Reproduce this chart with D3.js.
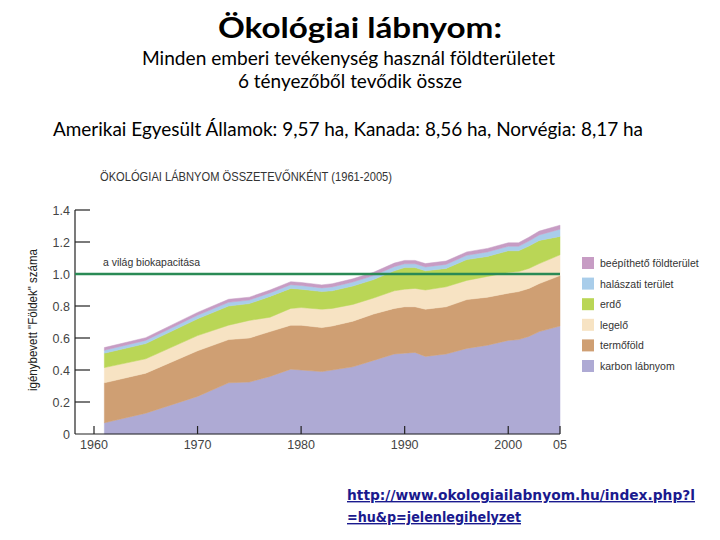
<!DOCTYPE html>
<html><head><meta charset="utf-8">
<script src="https://cdn.jsdelivr.net/npm/d3@7/dist/d3.min.js"></script>
<style>
body{margin:0;background:#fff;}
svg{display:block;}
</style></head>
<body>
<svg id="c" width="720" height="540"></svg>
<script>
const years = [1961,1965,1970,1973,1975,1977,1979,1980,1982,1983,1985,1987,1989,1990,1991,1992,1994,1996,1998,2000,2001,2002,2003,2005];
const carbon   = [0.07,0.13,0.235,0.32,0.325,0.36,0.405,0.40,0.39,0.40,0.42,0.46,0.50,0.505,0.51,0.485,0.50,0.535,0.555,0.585,0.59,0.61,0.64,0.675];
const cropland = [0.25,0.25,0.285,0.27,0.275,0.28,0.275,0.28,0.275,0.275,0.285,0.29,0.285,0.29,0.285,0.295,0.295,0.305,0.30,0.295,0.30,0.30,0.30,0.315];
const grazing  = [0.095,0.09,0.095,0.09,0.11,0.09,0.105,0.11,0.115,0.11,0.105,0.10,0.11,0.11,0.115,0.12,0.125,0.12,0.13,0.13,0.125,0.125,0.125,0.13];
const forest   = [0.09,0.095,0.105,0.12,0.105,0.13,0.125,0.115,0.11,0.11,0.115,0.115,0.125,0.135,0.13,0.12,0.115,0.13,0.125,0.135,0.13,0.14,0.145,0.115];
const fishing  = [0.018,0.02,0.022,0.023,0.022,0.022,0.023,0.023,0.023,0.024,0.025,0.025,0.026,0.024,0.024,0.024,0.025,0.027,0.028,0.028,0.028,0.031,0.034,0.045];
const builtup  = [0.017,0.017,0.018,0.019,0.018,0.018,0.019,0.019,0.019,0.02,0.02,0.021,0.022,0.021,0.021,0.021,0.021,0.021,0.022,0.022,0.022,0.024,0.024,0.025];

const seriesKeys   = ["carbon","cropland","grazing","forest","fishing","builtup"];
const seriesLabels = ["karbon lábnyom","termőföld","legelő","erdő","halászati terület","beépíthető földterület"];
const seriesColors = ["#aeaad4","#cf9f73","#f7e3c3","#bad656","#a9cdea","#c79cc4"];

const yTicks = [0,0.2,0.4,0.6,0.8,1.0,1.2,1.4];
const yTickLabels = ["0","0.2","0.4","0.6","0.8","1.0","1.2","1.4"];
const xTicks = [1960,1970,1980,1990,2000,2005];
const xTickLabels = ["1960","1970","1980","1990","2000","05"];
const biocapacity = 1.0;

const svg = d3.select("#c");
const x = d3.scaleLinear().domain([1960,2005]).range([94,560]);
const y = d3.scaleLinear().domain([0,1.4]).range([434,210]);

const cols = {carbon,cropland,grazing,forest,fishing,builtup};
const table = years.map((yr,i)=>{const o={year:yr}; seriesKeys.forEach(k=>o[k]=cols[k][i]); return o;});
const stack = d3.stack().keys(seriesKeys)(table);

// Texts
const tfont = "Lato, 'Open Sans', sans-serif";
svg.append("text").attr("x",218).attr("y",38)
  .attr("font-family",tfont).attr("font-weight","bold").attr("font-size",29).attr("fill","#000")
  .attr("textLength",284).attr("lengthAdjust","spacingAndGlyphs")
  .text("Ökológiai lábnyom:");
svg.append("text").attr("x",142).attr("y",65)
  .attr("font-family",tfont).attr("font-size",18.5).attr("fill","#000")
  .attr("textLength",413).attr("lengthAdjust","spacingAndGlyphs")
  .text("Minden emberi tevékenység használ földterületet");
svg.append("text").attr("x",238).attr("y",88)
  .attr("font-family",tfont).attr("font-size",18.5).attr("fill","#000")
  .attr("textLength",224).attr("lengthAdjust","spacingAndGlyphs")
  .text("6 tényezőből tevődik össze");
svg.append("text").attr("x",53).attr("y",136)
  .attr("font-family",tfont).attr("font-size",19.5).attr("fill","#000")
  .attr("textLength",590).attr("lengthAdjust","spacingAndGlyphs")
  .text("Amerikai Egyesült Államok: 9,57 ha, Kanada: 8,56 ha, Norvégia: 8,17 ha");

// Chart title
svg.append("text").attr("x",100).attr("y",181)
  .attr("font-family","'Liberation Sans', Arial, sans-serif").attr("font-size",13).attr("fill","#333")
  .attr("textLength",292).attr("lengthAdjust","spacingAndGlyphs")
  .text("ÖKOLÓGIAI LÁBNYOM ÖSSZETEVŐNKÉNT (1961-2005)");

// Areas
const area = d3.area().x(d=>x(d.data.year)).y0(d=>y(d[0])).y1(d=>y(d[1]));
svg.append("g").selectAll("path").data(stack).join("path")
  .attr("d",area).attr("fill",(d,i)=>seriesColors[i]).attr("stroke",(d,i)=>seriesColors[i]).attr("stroke-width",0.5);

// Axes
const ax = svg.append("g").attr("stroke","#222").attr("stroke-width",1.2);
ax.append("line").attr("x1",75).attr("x2",75).attr("y1",y(1.4)).attr("y2",y(0));
ax.append("line").attr("x1",75).attr("x2",x(2005)).attr("y1",y(0)).attr("y2",y(0));
ax.selectAll(".yt").data(yTicks.filter(v=>v>0)).join("line")
  .attr("x1",75).attr("x2",90).attr("y1",d=>y(d)).attr("y2",d=>y(d));
ax.selectAll(".xt").data(xTicks).join("line")
  .attr("x1",d=>x(d)).attr("x2",d=>x(d)).attr("y1",y(0)).attr("y2",y(0)-8);

const afont = "'Liberation Sans', Arial, sans-serif";
svg.append("g").selectAll("text").data(yTicks).join("text")
  .attr("x",70).attr("y",d=>y(d)+4.5).attr("text-anchor","end")
  .attr("font-family",afont).attr("font-size",12.5).attr("fill","#444")
  .text((d,i)=>yTickLabels[i]);
svg.append("g").selectAll("text").data(xTicks).join("text")
  .attr("x",d=>x(d)).attr("y",449).attr("text-anchor","middle")
  .attr("font-family",afont).attr("font-size",12.5).attr("fill","#444")
  .text((d,i)=>xTickLabels[i]);

svg.append("text").attr("transform","translate(37,320) rotate(-90)").attr("text-anchor","middle")
  .attr("font-family",afont).attr("font-size",12.5).attr("fill","#222")
  .attr("textLength",142).attr("lengthAdjust","spacingAndGlyphs")
  .text("igénybevett \"Földek\" száma");

// biocapacity line
svg.append("line").attr("x1",75).attr("x2",x(2005)).attr("y1",y(biocapacity)).attr("y2",y(biocapacity))
  .attr("stroke","#2a8a55").attr("stroke-width",2.4);
svg.append("text").attr("x",103).attr("y",266)
  .attr("font-family",afont).attr("font-size",11).attr("fill","#333")
  .attr("textLength",97).attr("lengthAdjust","spacingAndGlyphs")
  .text("a világ biokapacitása");

// Legend
const legOrder = [5,4,3,2,1,0];
const lg = svg.append("g").selectAll("g").data(legOrder).join("g")
  .attr("transform",(d,i)=>`translate(582,${257+i*20.6})`);
lg.append("rect").attr("width",12).attr("height",12).attr("fill",d=>seriesColors[d]);
lg.append("text").attr("x",18).attr("y",10)
  .attr("font-family",afont).attr("font-size",10.5).attr("fill","#333")
  .text(d=>seriesLabels[d]);

// Link
const lf = "'DejaVu Sans', Verdana, sans-serif";
svg.append("text").attr("x",347).attr("y",500)
  .attr("font-family",lf).attr("font-weight","bold").attr("font-size",14).attr("fill","#1a1a8e").attr("text-decoration","underline")
  .attr("textLength",348).attr("lengthAdjust","spacingAndGlyphs")
  .text("http://www.okologiailabnyom.hu/index.php?l");
svg.append("text").attr("x",347).attr("y",522)
  .attr("font-family",lf).attr("font-weight","bold").attr("font-size",14).attr("fill","#1a1a8e").attr("text-decoration","underline")
  .attr("textLength",174).attr("lengthAdjust","spacingAndGlyphs")
  .text("=hu&p=jelenlegihelyzet");
</script>
</body></html>
